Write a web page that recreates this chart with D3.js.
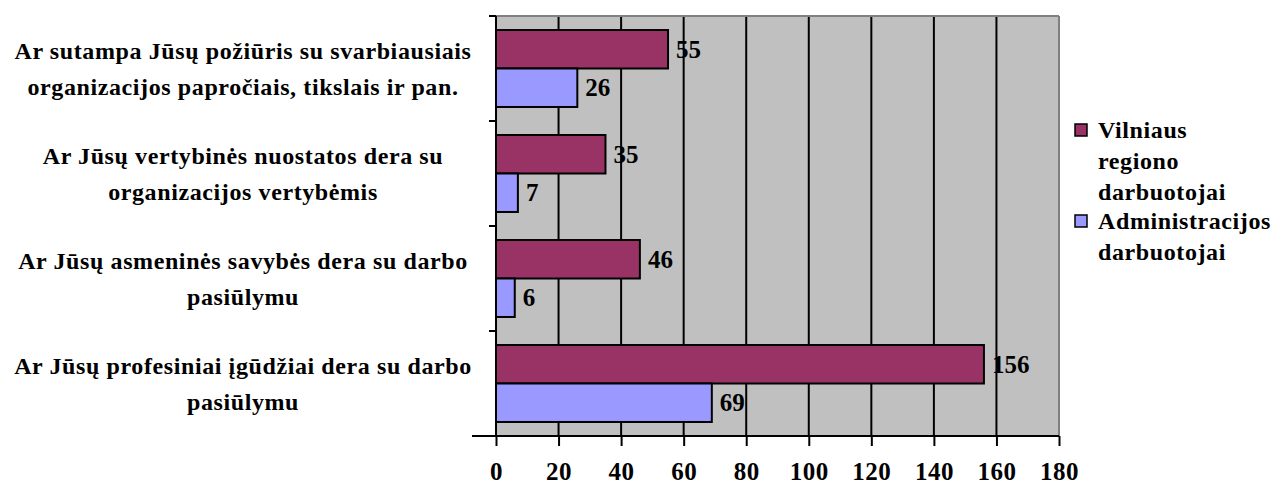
<!DOCTYPE html>
<html><head><meta charset="utf-8">
<script src="https://cdn.jsdelivr.net/npm/d3@7"></script>
<style>body{margin:0;background:#fff}</style>
</head><body><svg id="c" width="1274" height="487"></svg>
<script>
const categories = [
  ["Ar sutampa Jūsų požiūris su svarbiausiais","organizacijos papročiais, tikslais ir pan."],
  ["Ar Jūsų vertybinės nuostatos dera su","organizacijos vertybėmis"],
  ["Ar Jūsų asmeninės savybės dera su darbo","pasiūlymu"],
  ["Ar Jūsų profesiniai įgūdžiai dera su darbo","pasiūlymu"]
];
const seriesNames = [["Vilniaus","regiono","darbuotojai"],["Administracijos","darbuotojai"]];
const vilniaus = [55,35,46,156];
const administracijos = [26,7,6,69];
const xTicks = [0,20,40,60,80,100,120,140,160,180];
const colors = ["#993366","#9999FF"];

const FONT = "'Liberation Serif', 'Times New Roman', Tinos, 'DejaVu Serif', serif";
const svg = d3.select("#c");
const L=496, R=1059, T=16, B=436;
const x = d3.scaleLinear().domain([0,180]).range([L,R]);
const y = d3.scaleBand().domain(d3.range(categories.length)).range([T,B]).paddingInner(0.267).paddingOuter(0.1335);
const ys = d3.scaleBand().domain([0,1]).range([0,y.bandwidth()]);

function f(sel,size,ls){ return sel.style("font-family",FONT).style("font-weight","bold").style("font-size",size+"px").style("letter-spacing",(ls||0)+"px").attr("fill","#000"); }

svg.append("rect").attr("x",L).attr("y",T).attr("width",R-L).attr("height",B-T).attr("fill","#C0C0C0");
svg.selectAll(".g").data(xTicks.slice(1,-1)).join("line").attr("x1",d=>x(d)).attr("x2",d=>x(d)).attr("y1",T).attr("y2",B).attr("stroke","#000").attr("stroke-width",2);
svg.append("line").attr("x1",L).attr("x2",R).attr("y1",T).attr("y2",T).attr("stroke","#808080").attr("stroke-width",2);
svg.append("line").attr("x1",R).attr("x2",R).attr("y1",T).attr("y2",B).attr("stroke","#808080").attr("stroke-width",2);

const data=[vilniaus,administracijos];
data.forEach((arr,si)=>{
  svg.selectAll(".b"+si).data(arr).join("rect")
    .attr("x",x(0)).attr("y",(d,i)=>y(i)+ys(si)).attr("width",d=>x(d)-x(0)).attr("height",ys.bandwidth())
    .attr("fill",colors[si]).attr("stroke","#000").attr("stroke-width",2);
  f(svg.selectAll(".v"+si).data(arr).join("text")
    .attr("x",d=>x(d)+8).attr("y",(d,i)=>y(i)+ys(si)+ys.bandwidth()/2).attr("dy","0.35em"),25).text(d=>d);
});

const xa = svg.append("g").attr("transform",`translate(0,${B})`).call(d3.axisBottom(x).tickValues(xTicks).tickSize(10).tickPadding(16));
xa.select(".domain").attr("stroke","#000").attr("stroke-width",2).attr("d",`M${L-24},0H${R}`);
xa.selectAll(".tick line").attr("stroke","#000").attr("stroke-width",2);
f(xa.selectAll(".tick text"),25,0.5);

const bounds = d3.range(categories.length+1).map(i=> T + i*(B-T)/categories.length);
svg.selectAll(".yt").data(bounds).join("line").attr("x1",L-7).attr("x2",L).attr("y1",d=>d).attr("y2",d=>d).attr("stroke","#000").attr("stroke-width",2);
svg.append("line").attr("x1",L).attr("x2",L).attr("y1",T).attr("y2",B).attr("stroke","#000").attr("stroke-width",2);

categories.forEach((lines,i)=>{
  const cy = y(i)+y.bandwidth()/2;
  const t = f(svg.append("text").attr("text-anchor","middle"),24,0.6);
  lines.forEach((ln,j)=>{
    t.append("tspan").attr("x",243).attr("y",cy-18+j*36).attr("dy","0.35em").text(ln);
  });
});

const lg = [{y:130,lines:seriesNames[0]},{y:221,lines:seriesNames[1]}];
lg.forEach((g,i)=>{
  svg.append("rect").attr("x",1075).attr("y",g.y-6).attr("width",12).attr("height",12).attr("fill",colors[i]).attr("stroke","#000").attr("stroke-width",1.5);
  const t=f(svg.append("text"),24,0.6);
  g.lines.forEach((ln,j)=>t.append("tspan").attr("x",1098).attr("y",g.y+j*31).attr("dy","0.35em").text(ln));
});
</script></body></html>
